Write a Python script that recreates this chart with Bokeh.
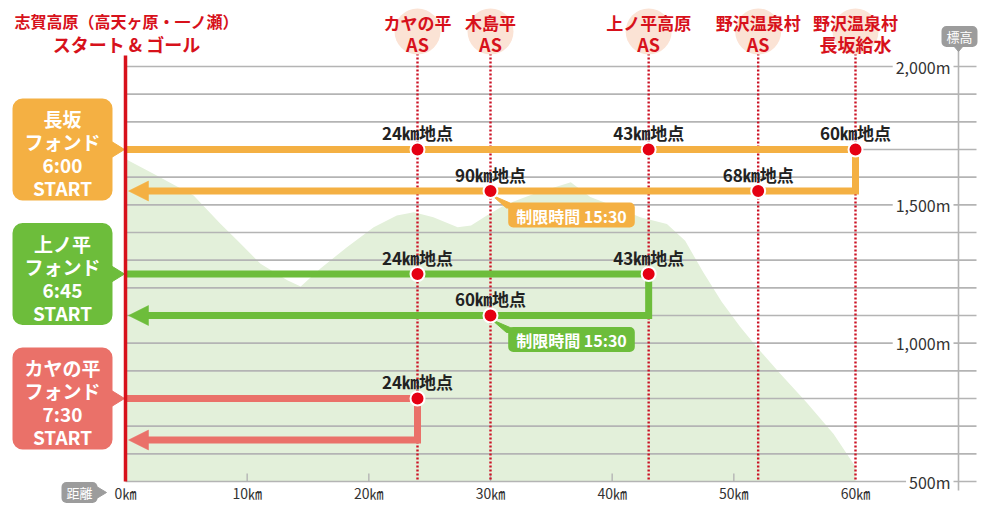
from bokeh.plotting import figure
from bokeh.models import Range1d, BoxAnnotation, Arrow, NormalHead
from bokeh.core.properties import value
from bokeh.embed import file_html
from bokeh.resources import INLINE

# ---------------- data ----------------
profile_km = [0, 2.3, 5.6, 7.8, 9.2, 11.1, 13.3, 14.4, 16.0, 18.2, 20.4, 22.3, 23.7,
              25.3, 27.3, 28.4, 29.7, 31.1, 32.5, 33.6, 34.9, 36.6, 38.2, 40.4, 42.3,
              44.5, 46.0, 47.5, 49.0, 50.5, 52.0, 53.8, 56.0, 58.2, 59.9, 60]
profile_m = [1666, 1612, 1534, 1432, 1371, 1287, 1227, 1205, 1269, 1347, 1419, 1461, 1473,
             1455, 1419, 1425, 1461, 1498, 1522, 1540, 1558, 1582, 1528, 1491, 1455,
             1431, 1370, 1255, 1150, 1060, 980, 890, 785, 672, 560, 550]

x_ticks = [0, 10, 20, 30, 40, 50, 60]
x_tick_labels = ["0㎞", "10㎞", "20㎞", "30㎞", "40㎞", "50㎞", "60㎞"]
y_ticks = [500, 1000, 1500, 2000]
y_tick_labels = ["500m", "1,000m", "1,500m", "2,000m"]
grid_m = list(range(500, 2001, 100))

station_km = [24, 30, 43, 52, 60]
station_line1 = ["カヤの平", "木島平", "上ノ平高原", "野沢温泉村", "野沢温泉村"]
station_line2 = ["AS", "AS", "AS", "AS", "長坂給水"]

title_line1 = "志賀高原（高天ヶ原・一ノ瀬）"
title_line2 = "スタート & ゴール"

course_names = ["長坂", "上ノ平", "カヤの平"]
course_kind = "フォンド"
course_start_times = ["6:00", "6:45", "7:30"]
course_colors = ["#f4b043", "#6dbd3b", "#ea7169"]
course_turn_km = [60, 43, 24]
course_out_m = [1700, 1250, 800]
course_back_m = [1550, 1100, 650]
out_points_km = [[24, 43, 60], [24, 43], [24]]
out_points_label = [["24㎞地点", "43㎞地点", "60㎞地点"], ["24㎞地点", "43㎞地点"], ["24㎞地点"]]
back_points_km = [[30, 52], [30], []]
back_points_label = [["90㎞地点", "68㎞地点"], ["60㎞地点"], []]
cutoff_km = [30, 30, None]
cutoff_text = "制限時間 15:30"

# ---------------- layout helpers (picture px -> data) ----------------
X0, PXKM = 125.0, 730.0 / 60.0
Y0, PYM = 66.0, 415.0 / 1500.0
W, H = 991, 505


def kx(px):
    return (px - X0) / PXKM


def my(py):
    return 2000 - (py - Y0) / PYM


def dkm(px):
    return px / PXKM


def dm(px):
    return px / PYM


JP = value("Noto Sans CJK JP")
RED = "#d7111b"
GRID = "#b4b4b4"

p = figure(width=W, height=H,
           x_range=Range1d(kx(0), kx(W)), y_range=Range1d(my(H), my(0)),
           output_backend="svg", toolbar_location=None, min_border=0,
           x_axis_location=None, y_axis_location=None,
           background_fill_color="white", border_fill_color="white")
p.grid.visible = False
p.outline_line_color = None


def txt(x, y, t, size, color, bold=True, align="center", **kw):
    return p.text(x=x, y=y, text=t, text_font=JP, text_font_size=f"{size}px",
                  text_font_style="bold" if bold else "normal", text_color=color,
                  text_align=align, text_baseline="middle", **kw)


# elevation profile
p.varea(x=profile_km, y1=[500] * len(profile_km), y2=profile_m, fill_color="#e3f0da")

# horizontal grid
p.segment(x0=[0] * len(grid_m), x1=[kx(976)] * len(grid_m), y0=grid_m, y1=grid_m,
          line_color=GRID, line_width=1.6)
# right elevation axis line
p.segment(x0=[kx(958)], x1=[kx(958)], y0=[my(50)], y1=[my(490)], line_color=GRID, line_width=1.6)
# small distance ticks
mid_ticks = [t for t in x_ticks if 0 < t < 60]
p.segment(x0=mid_ticks, x1=mid_ticks, y0=[500] * len(mid_ticks), y1=[my(473)] * len(mid_ticks),
          line_color=GRID, line_width=1.4)

# aid-station dotted lines
p.segment(x0=station_km, x1=station_km, y0=[my(53)] * 5, y1=[500] * 5,
          line_color="#cc1224", line_width=2.4, line_dash="2 2")

# aid-station circles and labels
p.scatter(x=station_km, y=[my(31)] * 5, size=46, marker="circle",
          fill_color="#fbe3d5", line_color=None)
txt(station_km, [my(22)] * 5, station_line1, 17, RED)
txt(station_km, [my(43)] * 5, station_line2, 18, RED)

# title
txt([kx(126)], [my(20)], [title_line1], 16, RED)
txt([kx(126)], [my(43)], [title_line2], 18, RED)

# courses
dot_x, dot_y, lab_x, lab_y, lab_t = [], [], [], [], []
for i in range(3):
    c = course_colors[i]
    out, back, turn = course_out_m[i], course_back_m[i], course_turn_km[i]
    p.line([0, turn, turn, kx(140)], [out, out, back, back], line_width=7,
           line_color=c, line_join="miter")
    p.add_layout(Arrow(end=NormalHead(size=20, fill_color=c, line_color=c, line_width=0.5),
                       x_start=kx(142), y_start=back, x_end=kx(128), y_end=back,
                       line_color=c, line_alpha=0, line_width=1))
    for k, lab in zip(out_points_km[i], out_points_label[i]):
        dot_x.append(k); dot_y.append(out)
        lab_x.append(k); lab_y.append(out + dm(17)); lab_t.append(lab)
    for k, lab in zip(back_points_km[i], back_points_label[i]):
        dot_x.append(k); dot_y.append(back)
        lab_x.append(k); lab_y.append(back + dm(17)); lab_t.append(lab)
    # cutoff tag
    if cutoff_km[i] is not None:
        ck = cutoff_km[i]
        p.patch([ck + dkm(1), ck + dkm(16), ck + dkm(31)],
                [back - dm(4), back - dm(17), back - dm(17)], fill_color=c, line_color=c)
        txt([ck + dkm(81)], [back - dm(24)], [cutoff_text], 16, "white",
            background_fill_color=c, padding=dict(left=8, right=8, top=1, bottom=0),
            border_radius=5)
    # start box
    p.add_layout(BoxAnnotation(left=kx(12), right=kx(112), top=out + dm(51), bottom=out - dm(51),
                               fill_color=c, fill_alpha=1, line_color=None,
                               border_radius=10, level="underlay"))
    p.patch([kx(111), kx(124), kx(111)], [out + dm(8), out, out - dm(8)],
            fill_color=c, line_color=c)
    lines = [course_names[i], course_kind, course_start_times[i], "START"]
    offs = [-31, -8, 15, 38]
    txt([kx(62)] * 4, [out - dm(o) for o in offs], lines, 19, "white")

# start / goal line
p.segment(x0=[0], x1=[0], y0=[my(55)], y1=[500], line_color=RED, line_width=3.5)

# checkpoint dots & labels
p.scatter(x=dot_x, y=dot_y, size=14, marker="circle", fill_color="#e50012",
          line_color="white", line_width=2)
txt(lab_x, lab_y, lab_t, 17, "#222222")

# elevation labels
txt([kx(953)] * 4, y_ticks, y_tick_labels, 16, "#333333", bold=False, align="right",
    background_fill_color="white", padding=dict(left=3, right=3, top=0, bottom=0))
# distance labels
txt(x_ticks, [my(492)] * len(x_ticks), x_tick_labels, 14, "#333333", bold=False)

# tags
GT = "#9c9c9c"
txt([kx(959)], [my(36)], ["標高"], 13, "white", bold=False,
    background_fill_color=GT, padding=dict(left=5, right=5, top=1, bottom=1), border_radius=5)
p.patch([kx(952), kx(964), kx(958)], [my(44), my(44), my(51)], fill_color=GT, line_color=GT)
txt([kx(79)], [my(492)], ["距離"], 13, "white", bold=False,
    background_fill_color=GT, padding=dict(left=5, right=5, top=1, bottom=1), border_radius=5)
p.patch([kx(96), kx(96), kx(106)], [my(486), my(498), my(492)], fill_color=GT, line_color=GT)

open("out.html", "w").write(file_html(p, INLINE))
